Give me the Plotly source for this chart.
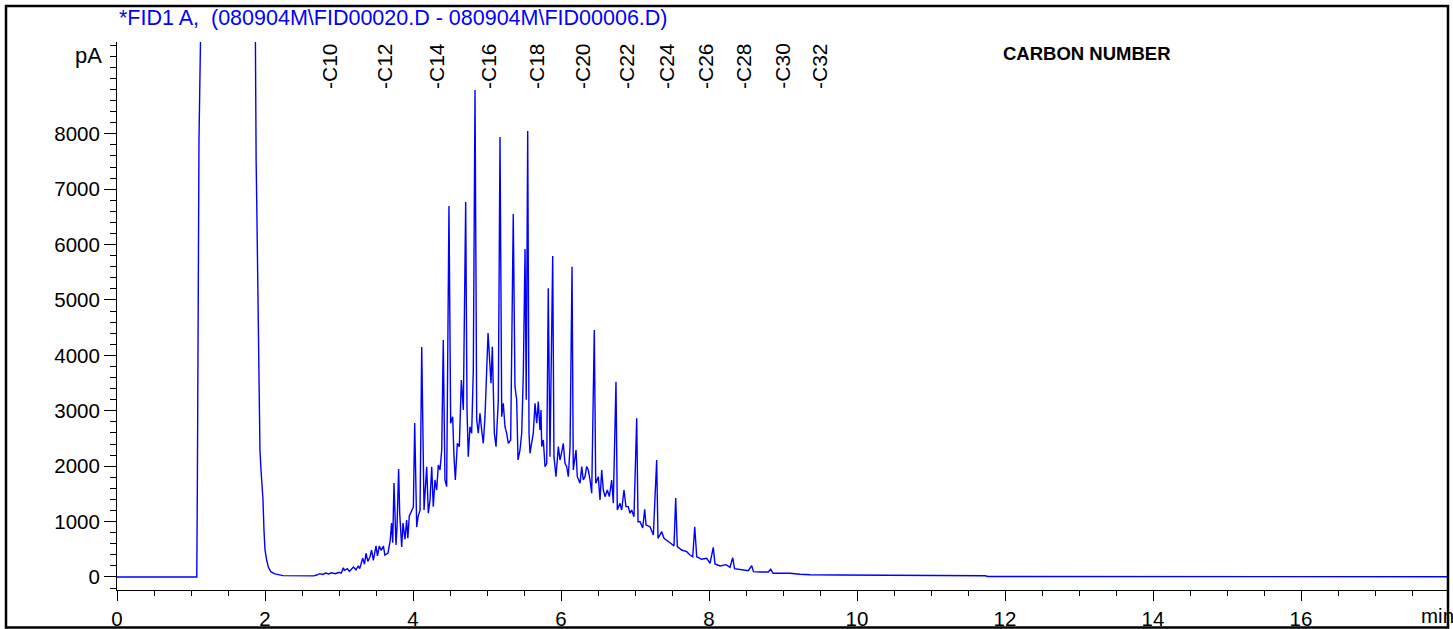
import plotly.graph_objects as go

# ---- data (retention time in min, signal in pA) ----
time_min = [
    0.00, 0.50, 1.00, 1.078, 1.085, 1.108, 1.128, 1.14, 1.86, 1.868, 1.880, 1.888,
    1.932, 1.946, 1.973, 1.986, 2.000, 2.022, 2.045, 2.081, 2.135, 2.243, 2.45, 2.66,
    2.70, 2.74, 2.78, 2.82, 2.86, 2.90, 2.95, 3.00, 3.03, 3.059, 3.072, 3.113, 3.14,
    3.194, 3.23, 3.261, 3.28, 3.320, 3.345, 3.365, 3.39, 3.419, 3.44, 3.464, 3.50,
    3.52, 3.545, 3.57, 3.60, 3.62, 3.662, 3.693, 3.71, 3.726, 3.743, 3.757, 3.770,
    3.784, 3.806, 3.82, 3.847, 3.865, 3.892, 3.914, 3.93, 3.950, 3.982, 4.005, 4.023,
    4.050, 4.070, 4.095, 4.118, 4.149, 4.185, 4.207, 4.230, 4.253, 4.274, 4.297, 4.320,
    4.342, 4.365, 4.388, 4.409, 4.432, 4.455, 4.486, 4.509, 4.536, 4.554, 4.572, 4.599,
    4.626, 4.653, 4.680, 4.712, 4.730, 4.747, 4.770, 4.793, 4.815, 4.838, 4.861, 4.882,
    4.905, 4.928, 4.950, 4.973, 4.996, 5.014, 5.041, 5.054, 5.072, 5.099, 5.122, 5.153,
    5.176, 5.199, 5.220, 5.243, 5.266, 5.288, 5.320, 5.355, 5.378, 5.401, 5.419, 5.446,
    5.469, 5.491, 5.514, 5.530, 5.550, 5.568, 5.581, 5.604, 5.626, 5.649, 5.672, 5.693,
    5.716, 5.730, 5.739, 5.761, 5.784, 5.807, 5.828, 5.851, 5.865, 5.888, 5.905, 5.932,
    5.964, 5.986, 6.009, 6.031, 6.054, 6.077, 6.099, 6.122, 6.149, 6.166, 6.203, 6.220,
    6.257, 6.280, 6.301, 6.324, 6.347, 6.369, 6.392, 6.415, 6.450, 6.469, 6.504, 6.527,
    6.550, 6.572, 6.595, 6.626, 6.653, 6.685, 6.707, 6.743, 6.761, 6.797, 6.820, 6.851,
    6.878, 6.909, 6.932, 6.955, 6.986, 7.023, 7.041, 7.068, 7.104, 7.131, 7.149, 7.203,
    7.248, 7.293, 7.311, 7.361, 7.392, 7.428, 7.482, 7.527, 7.550, 7.572, 7.631, 7.699,
    7.743, 7.780, 7.807, 7.834, 7.901, 7.969, 8.014, 8.058, 8.081, 8.149, 8.230, 8.284,
    8.320, 8.345, 8.419, 8.531, 8.577, 8.601, 8.689, 8.801, 8.834, 8.865, 8.959, 9.095,
    9.230, 9.365, 9.770, 10.04, 10.31, 10.58, 11.73, 11.77, 18.0,
]
signal_pA = [
    0, 0, 0, 0, 1400, 7900, 9650, 12000, 12000, 9650, 7530, 6800,
    2290, 1930, 1390, 850, 490, 310, 180, 90, 55, 25, 18, 20,
    35, 60, 45, 70, 55, 75, 60, 85, 70, 168, 120, 150, 100,
    180, 130, 199, 150, 337, 230, 428, 280, 366, 487, 300, 560,
    380, 560, 480, 560, 397, 433, 668, 975, 620, 1697, 900, 577,
    900, 1949, 1155, 542, 975, 680, 1029, 700, 1100, 1200, 1264, 2780,
    903, 1100, 1200, 4150, 1210, 1990, 1150, 1390, 1990, 1270, 1751, 1570,
    2020, 1931, 2292, 4278, 1751, 1630, 6697, 2775, 2894, 2172, 1751, 2413,
    2352, 3556, 3014, 6769, 3014, 2172, 2713, 2594, 3736, 8790, 2834, 2594,
    2955, 2653, 2413, 2894, 3615, 4404, 3796, 3496, 4157, 2594, 2352, 3195,
    7942, 2894, 3135, 2713, 2594, 2413, 2473, 6552, 3435, 3195, 2112, 2292,
    2594, 3677, 5920, 3200, 8050, 2594, 2233, 2413, 2600, 3135, 2775, 3165,
    2653, 3014, 2352, 2473, 1992, 2052, 5211, 2172, 3375, 5795, 2172, 1811,
    2352, 2112, 2250, 2413, 2052, 1992, 1811, 2352, 5602, 1931, 2292, 1811,
    1691, 1992, 1751, 1811, 1992, 1931, 1751, 1511, 4458, 1691, 1811, 1390,
    1931, 1570, 1450, 1570, 1450, 1751, 1330, 3526, 1209, 1330, 1209, 1570,
    1270, 1270, 1150, 1209, 1089, 2865, 998, 998, 884, 1222, 939, 908,
    758, 2112, 698, 818, 698, 668, 608, 560, 1426, 547, 487, 457,
    397, 366, 908, 366, 319, 337, 247, 536, 235, 199, 222, 175,
    348, 150, 139, 114, 204, 96, 90, 90, 139, 67, 67, 67,
    48, 40, 36, 33, 25, 25, 22, 8, 5,
]

carbon_labels = ["-C10", "-C12", "-C14", "-C16", "-C18", "-C20",
                 "-C22", "-C24", "-C26", "-C28", "-C30", "-C32"]
carbon_times = [2.878, 3.622, 4.324, 5.027, 5.676, 6.297,
                6.892, 7.432, 7.959, 8.473, 8.995, 9.50]

y_tick_values = [0, 1000, 2000, 3000, 4000, 5000, 6000, 7000, 8000, 9000]
y_tick_text = ["0", "1000", "2000", "3000", "4000", "5000", "6000", "7000", "8000", ""]
x_tick_values = [0, 2, 4, 6, 8, 10, 12, 14, 16]

title_text = "*FID1 A,\u00a0\u00a0(080904M\\FID00020.D - 080904M\\FID00006.D)"

FONT = "Arial, 'Liberation Sans', sans-serif"

fig = go.Figure()
fig.add_trace(go.Scatter(
    x=time_min, y=signal_pA, mode="lines",
    line=dict(color="#0000ff", width=1.4),
    hoverinfo="skip", showlegend=False,
))

annotations = [
    dict(text=title_text, xref="paper", yref="paper", x=0.0, y=(590 - 18) / 548,
         xanchor="left", yanchor="middle", showarrow=False,
         font=dict(family=FONT, size=21.5, color="#0000ff")),
    dict(text="pA", xref="paper", yref="paper", x=(104 - 117) / 1330, y=(590 - 55) / 548,
         xanchor="right", yanchor="middle", showarrow=False,
         font=dict(family=FONT, size=22, color="black")),
    dict(text="min", xref="paper", yref="paper", x=(1419 - 117) / 1330, y=(590 - 615) / 548,
         xanchor="left", yanchor="middle", showarrow=False,
         font=dict(family=FONT, size=20.5, color="black")),
    dict(text="<b>CARBON NUMBER</b>", xref="paper", yref="paper",
         x=(1087 - 117) / 1330, y=(590 - 54) / 548,
         xanchor="center", yanchor="middle", showarrow=False,
         font=dict(family=FONT, size=18.5, color="black")),
]
for lab, t in zip(carbon_labels, carbon_times):
    annotations.append(dict(
        text=lab, xref="x", yref="paper", x=t, y=(590 - 66) / 548,
        xanchor="center", yanchor="middle", textangle=-90, showarrow=False,
        font=dict(family=FONT, size=21, color="black")))

minor_y = [v for v in range(-200, 9700, 200)]

fig.update_layout(
    width=1453, height=629, autosize=False,
    margin=dict(l=117, r=6, t=42, b=39, pad=0),
    paper_bgcolor="white", plot_bgcolor="white",
    font=dict(family=FONT, size=20.5, color="black"),
    annotations=annotations,
    shapes=[dict(type="rect", xref="paper", yref="paper",
                 x0=(6 - 117) / 1330, x1=(1448 - 117) / 1330,
                 y0=(590 - 627.5) / 548, y1=(590 - 6) / 548,
                 line=dict(color="black", width=2.5), layer="above")],
    xaxis=dict(
        range=[0, 17.973], showgrid=False, zeroline=False, automargin=False,
        showline=True, linecolor="black", linewidth=1,
        tickmode="array", tickvals=x_tick_values,
        ticks="outside", ticklen=10, tickcolor="black", tickwidth=1,
        tickfont=dict(family=FONT, size=20.5, color="black"),
        minor=dict(tickmode="linear", tick0=0, dtick=0.5, ticks="outside",
                   ticklen=5, tickcolor="black", tickwidth=1, showgrid=False),
    ),
    yaxis=dict(
        range=[-235, 9657], showgrid=False, zeroline=False, automargin=False,
        showline=True, linecolor="black", linewidth=1,
        tickmode="array", tickvals=y_tick_values, ticktext=y_tick_text,
        ticks="outside", ticklen=12, tickcolor="black", tickwidth=1,
        tickfont=dict(family=FONT, size=20.5, color="black"),
        minor=dict(tickmode="array", tickvals=minor_y, ticks="outside",
                   ticklen=6, tickcolor="black", tickwidth=1, showgrid=False),
    ),
)

fig.write_html("out.html",
               config={"displayModeBar": False},
               post_script="document.body.style.margin='0';document.body.style.overflow='hidden';")
